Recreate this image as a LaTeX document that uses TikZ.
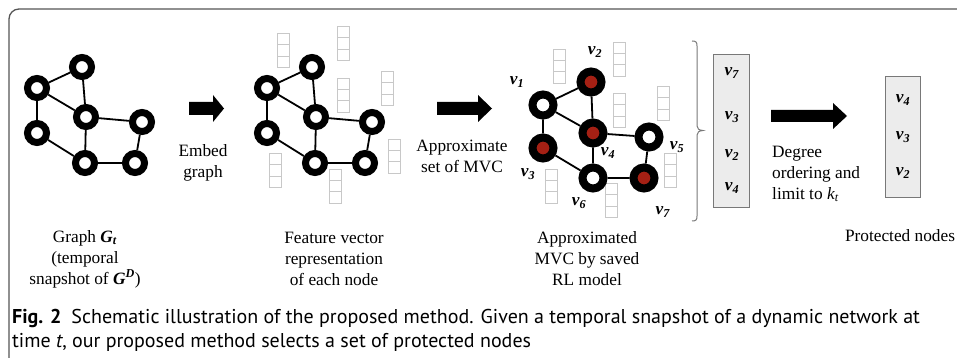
\documentclass[tikz,border=0pt]{standalone}
\usepackage{fontspec}
\setmainfont{Liberation Serif}
\newfontfamily\capfont{PT Sans}
\definecolor{mvcred}{RGB}{165,32,20}
\definecolor{fvgray}{RGB}{200,200,200}
\definecolor{framegray}{RGB}{85,85,85}
\definecolor{listfill}{RGB}{236,236,236}
\definecolor{listdraw}{RGB}{120,120,120}
\definecolor{bracegray}{RGB}{120,120,120}
\newcommand{\vlab}[1]{\textbf{\textit{v}}\textsubscript{\textbf{\textit{#1}}}}
\begin{document}
\begin{tikzpicture}[x=1pt,y=-1pt,
  gn/.style={circle,draw=black,fill=white,line width=7pt,minimum size=19pt,inner sep=0pt},
  gnb/.style={circle,draw=black,fill=white,line width=8pt,minimum size=21pt,inner sep=0pt},
  gnr/.style={gnb,fill=mvcred},
  edge/.style={line width=1.8pt,black},
  lbl/.style={font=\fontsize{17.3}{21}\selectfont,align=center,inner sep=0pt},
  vl/.style={font=\fontsize{17.3}{20}\selectfont,inner sep=0pt},
  listbox/.style={draw=listdraw,fill=listfill,line width=1pt,inner sep=0pt},
  bigarrow/.style={fill=black},
  capt/.style={anchor=base west,inner sep=0pt,font=\capfont\fontsize{20}{24}\selectfont},
  fvec/.pic={\draw[fvgray,line width=0.9pt] (-6,-17) rectangle (6,17) (-6,-5.67) -- (6,-5.67) (-6,5.67) -- (6,5.67);}
]
\useasboundingbox (0,0) rectangle (957,358);
% frame
\draw[framegray,line width=1.3pt,rounded corners=10pt] (9,365) -- (9,9) -- (965,9);

% ---------- graph 1
\node[gn] (a1) at (37,88) {};
\node[gn] (a2) at (82,67) {};
\node[gn] (a3) at (37,133) {};
\node[gn] (a4) at (86,117) {};
\node[gn] (a5) at (142,122) {};
\node[gn] (a6) at (85,163) {};
\node[gn] (a7) at (135,163) {};
\draw[edge] (a1) -- (a2) (a1) -- (a3) (a1) -- (a4) (a2) -- (a4) (a4) -- (a5)
  (a4) -- (a6) (a3) -- (a6) (a6) -- (a7) (a5) -- (a7);

% ---------- graph 2
\begin{scope}[shift={(230,0)}]
\pic at (53,50.5) {fvec};
\pic at (113,43.5) {fvec};
\pic at (113,95) {fvec};
\pic at (157,88.5) {fvec};
\pic at (164.5,156) {fvec};
\pic at (45.5,170.5) {fvec};
\pic at (105,186) {fvec};
\node[gn] (b1) at (37,88) {};
\node[gn] (b2) at (82,67) {};
\node[gn] (b3) at (37,133) {};
\node[gn] (b4) at (86,117) {};
\node[gn] (b5) at (142,122) {};
\node[gn] (b6) at (85,163) {};
\node[gn] (b7) at (135,163) {};
\end{scope}
\draw[edge] (b1) -- (b2) (b1) -- (b3) (b1) -- (b4) (b2) -- (b4) (b4) -- (b5)
  (b4) -- (b6) (b3) -- (b6) (b6) -- (b7) (b5) -- (b7);

% ---------- graph 3
\begin{scope}[shift={(506,16)}]
\pic at (53,50) {fvec};
\pic at (113,43) {fvec};
\pic at (113,94.5) {fvec};
\pic at (157,87.5) {fvec};
\pic at (164.5,154.5) {fvec};
\pic at (45.5,170) {fvec};
\pic at (105,184.5) {fvec};
\node[gnb] (c1) at (37,89) {};
\node[gnr] (c2) at (85,66) {};
\node[gnr] (c3) at (37,132) {};
\node[gnr] (c4) at (87,117) {};
\node[gnb] (c5) at (143,121) {};
\node[gnb] (c6) at (87,162) {};
\node[gnr] (c7) at (138,162) {};
\end{scope}
\draw[edge] (c1) -- (c2) (c1) -- (c3) (c1) -- (c4) (c2) -- (c4) (c4) -- (c5)
  (c4) -- (c6) (c3) -- (c6) (c6) -- (c7) (c5) -- (c7);
\node[vl] (l1) at (517,82) {\vlab{1}};
\node[vl] (l2) at (595,52) {\vlab{2}};
\node[vl] (l3) at (528,174) {\vlab{3}};
\node[vl] (l4) at (608,153) {\vlab{4}};
\node[vl] (l5) at (677,147) {\vlab{5}};
\node[vl] (l6) at (579,203) {\vlab{6}};
\node[vl] (l7) at (663,212) {\vlab{7}};

% brace
\draw[bracegray,line width=1pt] (692,41) .. controls (696,41) and (697,42) .. (697,46) -- (697,126)
  .. controls (697,129) and (699,130) .. (703,130.5)
  .. controls (699,131) and (697,132) .. (697,135) -- (697,216)
  .. controls (697,220) and (696,221) .. (692,221);

% list boxes
\node[listbox,minimum width=36pt,minimum height=152pt] (L1) at (731,131) {};
\node[vl] (m1) at (732,73) {\vlab{7}};
\node[vl] (m2) at (732,117) {\vlab{3}};
\node[vl] (m3) at (732,155) {\vlab{2}};
\node[vl] (m4) at (732,188) {\vlab{4}};
\node[listbox,minimum width=35pt,minimum height=120pt] (L2) at (902.5,137) {};
\node[vl] (n1) at (903,100) {\vlab{4}};
\node[vl] (n2) at (903,137) {\vlab{3}};
\node[vl] (n3) at (903,173) {\vlab{2}};

% arrows
\fill[bigarrow] (189,102) -- (213,102) -- (213,95) -- (224,108.5) -- (213,122) -- (213,115) -- (189,115) -- cycle;
\fill[bigarrow] (437,102) -- (478,102) -- (478,95) -- (492,108.5) -- (478,122) -- (478,115) -- (437,115) -- cycle;
\fill[bigarrow] (771,110) -- (833,110) -- (833,103) -- (847,116) -- (833,129) -- (833,122) -- (771,122) -- cycle;

% texts
\node[lbl] (t1) at (203,163) {Embed\\graph};
\node[lbl] (t2) at (462,156) {Approximate\\set of MVC};
\node[lbl,anchor=west,align=left] (t3) at (772,174) {Degree\\ordering and\\limit to \textit{k}\textsubscript{\textit{t}}};
\node[lbl] (t4) at (85,259) {Graph \textbf{\textit{G}}\textsubscript{\textbf{\textit{t}}}\\(temporal\\snapshot of \textbf{\textit{G}}\textsuperscript{\textbf{\textit{D}}})};
\node[lbl] (t5) at (334,259) {Feature vector\\representation\\of each node};
\node[lbl] (t6) at (587,259) {Approximated\\MVC by saved\\RL model};
\node[lbl] (t7) at (900,236) {Protected nodes};

% caption
\node[capt] (cap1) at (12,323)
  {\textbf{Fig. 2}\hspace{0.5em}Schematic illustration of the proposed method. Given a temporal snapshot of a dynamic network at};
\node[capt] (cap2) at (12,347)
  {time \textit{t}, our proposed method selects a set of protected nodes};
\end{tikzpicture}
\end{document}
